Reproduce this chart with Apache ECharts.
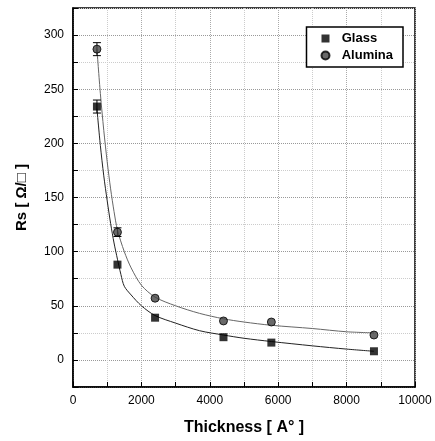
<!DOCTYPE html>
<html>
<head>
<meta charset="utf-8">
<script src="https://cdn.jsdelivr.net/npm/echarts@6/dist/echarts.min.js"></script>
<style>
  html, body { margin: 0; padding: 0; background: #fff; }
  #chart { width: 435px; height: 441px; }
</style>
</head>
<body>
<div id="chart"></div>
<script>
// measured points (thickness in A, Rs in ohm/sq)
const thickness = [700, 1300, 2400, 4400, 5800, 8800];
const glassRs = [234, 88, 39, 21, 16, 8];
const aluminaRs = [287, 118, 57, 36, 35, 23];
const glassErr = [6, 0, 0, 0, 0, 0];
const aluminaErr = [6, 4, 0, 0, 0, 0];

// fitted curves
const glassFitX = [700, 800, 900, 1000, 1100, 1200, 1300, 1400, 1500, 1700, 2000, 2400, 3000, 3700, 4400, 5000, 5800, 7000, 8000, 8800];
const glassFitY = [232, 198, 170, 147, 126, 108, 93, 79, 68, 60, 50, 41, 34, 27, 23, 20, 17, 13, 10, 8];
const aluminaFitX = [700, 800, 900, 1000, 1100, 1200, 1300, 1500, 1700, 2000, 2400, 3000, 3700, 4400, 5000, 5800, 7000, 8000, 8800];
const aluminaFitY = [287, 246, 212, 183, 158, 137, 120, 100, 85, 69, 58, 50, 43, 38, 35, 32, 29, 26, 25];

document.addEventListener('DOMContentLoaded', function() {
    const chart = echarts.init(document.getElementById('chart'));

    const pairs = (xs, ys) => xs.map((x, i) => [x, ys[i]]);
    const errData = (ys, es) => thickness.map((x, i) => [x, ys[i], es[i]]).filter(d => d[2] > 0);

    // vertical error bar with caps
    function errorBar(params, api) {
        const x = api.value(0), y = api.value(1), e = api.value(2);
        const hi = api.coord([x, y + e]);
        const lo = api.coord([x, y - e]);
        const w = 4;
        const style = { stroke: '#000', lineWidth: 1 };
        return {
            type: 'group',
            children: [
                { type: 'line', shape: { x1: hi[0], y1: hi[1], x2: lo[0], y2: lo[1] }, style: style },
                { type: 'line', shape: { x1: hi[0] - w, y1: hi[1], x2: hi[0] + w, y2: hi[1] }, style: style },
                { type: 'line', shape: { x1: lo[0] - w, y1: lo[1], x2: lo[0] + w, y2: lo[1] }, style: style }
            ]
        };
    }

    const labelFont = { color: '#000', fontFamily: 'Liberation Sans', fontSize: 12 };

    const option = {
        animation: false,
        backgroundColor: '#fff',
        grid: {
            left: 73, right: 20, top: 8, bottom: 48,
            show: true, borderColor: '#000', borderWidth: 1.5
        },
        legend: {
            data: ['Glass', 'Alumina'],
            orient: 'vertical',
            right: 32, top: 27,
            itemWidth: 8, itemHeight: 8, itemGap: 4,
            padding: [5, 10, 5, 14],
            borderColor: '#000', borderWidth: 1.5,
            backgroundColor: '#fff',
            formatter: name => '  ' + name,
            textStyle: { color: '#000', fontFamily: 'Liberation Sans', fontWeight: 'bold', fontSize: 13 }
        },
        xAxis: {
            type: 'value',
            min: 0, max: 10000, interval: 1000,
            name: 'Thickness [ A° ]',
            nameLocation: 'middle',
            nameGap: 33,
            nameTextStyle: { color: '#000', fontFamily: 'Liberation Sans', fontWeight: 'bold', fontSize: 16 },
            axisLine: { onZero: false, lineStyle: { color: '#000', width: 1.5 } },
            axisTick: { inside: true, length: 5, lineStyle: { color: '#000' } },
            axisLabel: Object.assign({
                margin: 8, showMaxLabel: true,
                formatter: v => (v % 2000 === 0 ? String(v) : '')
            }, labelFont),
            splitLine: { lineStyle: { color: ['#aaa', '#ccc'], type: 'dotted', width: 1 } }
        },
        yAxis: {
            type: 'value',
            min: -25, max: 325, interval: 25,
            name: 'Rs [ Ω/□ ]',
            nameLocation: 'middle',
            nameGap: 44,
            nameRotate: 90,
            nameTextStyle: { color: '#000', fontFamily: 'Liberation Sans', fontWeight: 'bold', fontSize: 15 },
            axisLine: { onZero: false, lineStyle: { color: '#000', width: 1.5 } },
            axisTick: { inside: true, length: 5, lineStyle: { color: '#000' } },
            axisLabel: Object.assign({
                margin: 9,
                formatter: v => (v >= 0 && v % 50 === 0 ? String(v) : '')
            }, labelFont),
            splitLine: { lineStyle: { color: ['#ccc', '#999'], type: 'dotted', width: 1 } }
        },
        series: [
            {
                name: 'GlassFit', type: 'line', data: pairs(glassFitX, glassFitY),
                symbol: 'none', smooth: 0.3, silent: true,
                lineStyle: { color: '#222', width: 1 }, z: 2
            },
            {
                name: 'AluminaFit', type: 'line', data: pairs(aluminaFitX, aluminaFitY),
                symbol: 'none', smooth: 0.3, silent: true,
                lineStyle: { color: '#666', width: 1 }, z: 2
            },
            {
                name: 'GlassErr', type: 'custom', renderItem: errorBar,
                data: errData(glassRs, glassErr), z: 3
            },
            {
                name: 'AluminaErr', type: 'custom', renderItem: errorBar,
                data: errData(aluminaRs, aluminaErr), z: 3
            },
            {
                name: 'Glass', type: 'scatter', data: pairs(thickness, glassRs),
                symbol: 'rect', symbolSize: 8,
                itemStyle: { color: '#000' }, z: 4
            },
            {
                name: 'Alumina', type: 'scatter', data: pairs(thickness, aluminaRs),
                symbol: 'circle', symbolSize: 8,
                itemStyle: { color: '#444', borderColor: '#000', borderWidth: 1 }, z: 4
            }
        ]
    };

    chart.setOption(option);
});
</script>
</body>
</html>
